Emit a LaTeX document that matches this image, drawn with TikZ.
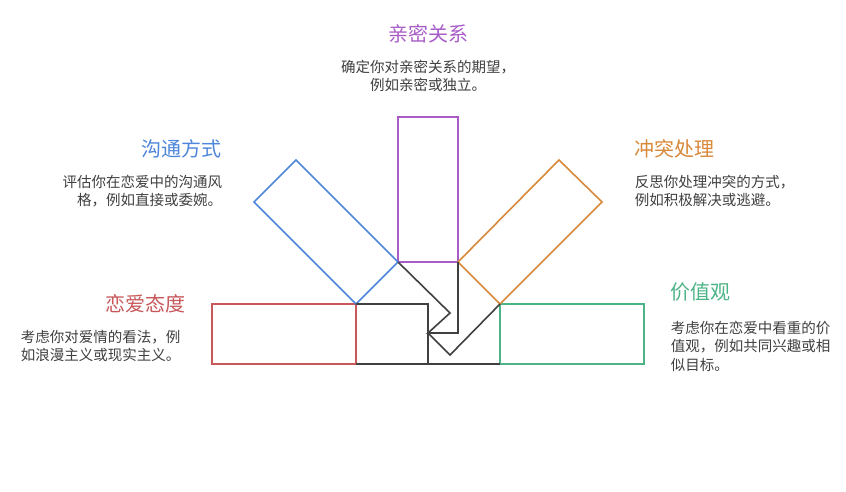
\documentclass[tikz,border=0pt]{standalone}
\usepackage{fontspec}
\setmainfont{Noto Sans CJK SC}
\begin{document}
\begin{tikzpicture}[x=1pt,y=-1pt,line width=1.6pt,
  ttl/.style={font=\fontsize{20}{24}\selectfont,inner sep=0pt},
  dsc/.style={font=\fontsize{14.5}{18.5}\selectfont,text=black!75,align=left,inner sep=0pt},
  dk/.style={draw=black!75,line join=miter}]
\useasboundingbox[fill=white] (0,0) rectangle (846,492);
\definecolor{cr}{HTML}{C8585A}\definecolor{cg}{HTML}{4CB487}
\definecolor{cp}{HTML}{A95CC8}\definecolor{cb}{HTML}{4D86DB}\definecolor{co}{HTML}{D9893A}
\coordinate (a) at (356,304); \coordinate (b) at (398,262); \coordinate (c) at (458,262);
\coordinate (d) at (500,304); \coordinate (m) at (428,333);
\draw[cr] (212,304) rectangle (356,364);
\draw[cg] (500,304) rectangle (644,364);
\draw[cp] (398,117) rectangle (458,262);
\draw[cb] (a) -- (254,202) -- (296,160) -- (b) -- cycle;
\draw[co] (d) -- (602,202) -- (559,160) -- (c) -- cycle;
\draw[dk] (b) -- (450,313) -- (m) -- (458,333) -- (c);
\draw[dk] (m) -- (450,355) -- (d);
\draw[dk] (a) -- (428,304) -- (428,364);
\draw[dk] (356,364) -- (500,364);
\node[ttl,text=cp] (t1) at (428,34) {亲密关系};
\node[dsc,align=center] (d1) at (428,76) {确定你对亲密关系的期望，\\例如亲密或独立。};
\node[ttl,text=cb,anchor=east] (t2) at (222,149) {沟通方式};
\node[dsc,align=right,anchor=east] (d2) at (223,191) {评估你在恋爱中的沟通风\\格，例如直接或委婉。};
\node[ttl,text=co,anchor=west] (t3) at (634,149) {冲突处理};
\node[dsc,anchor=west] (d3) at (634,191) {反思你处理冲突的方式，\\例如积极解决或逃避。};
\node[ttl,text=cr,anchor=east] (t4) at (186,304) {恋爱态度};
\node[dsc,anchor=west] (d4) at (20,346) {考虑你对爱情的看法，例\\如浪漫主义或现实主义。};
\node[ttl,text=cg,anchor=west] (t5) at (670,292) {价值观};
\node[dsc,anchor=west] (d5) at (670,346) {考虑你在恋爱中看重的价\\值观，例如共同兴趣或相\\似目标。};
\end{tikzpicture}
\end{document}
